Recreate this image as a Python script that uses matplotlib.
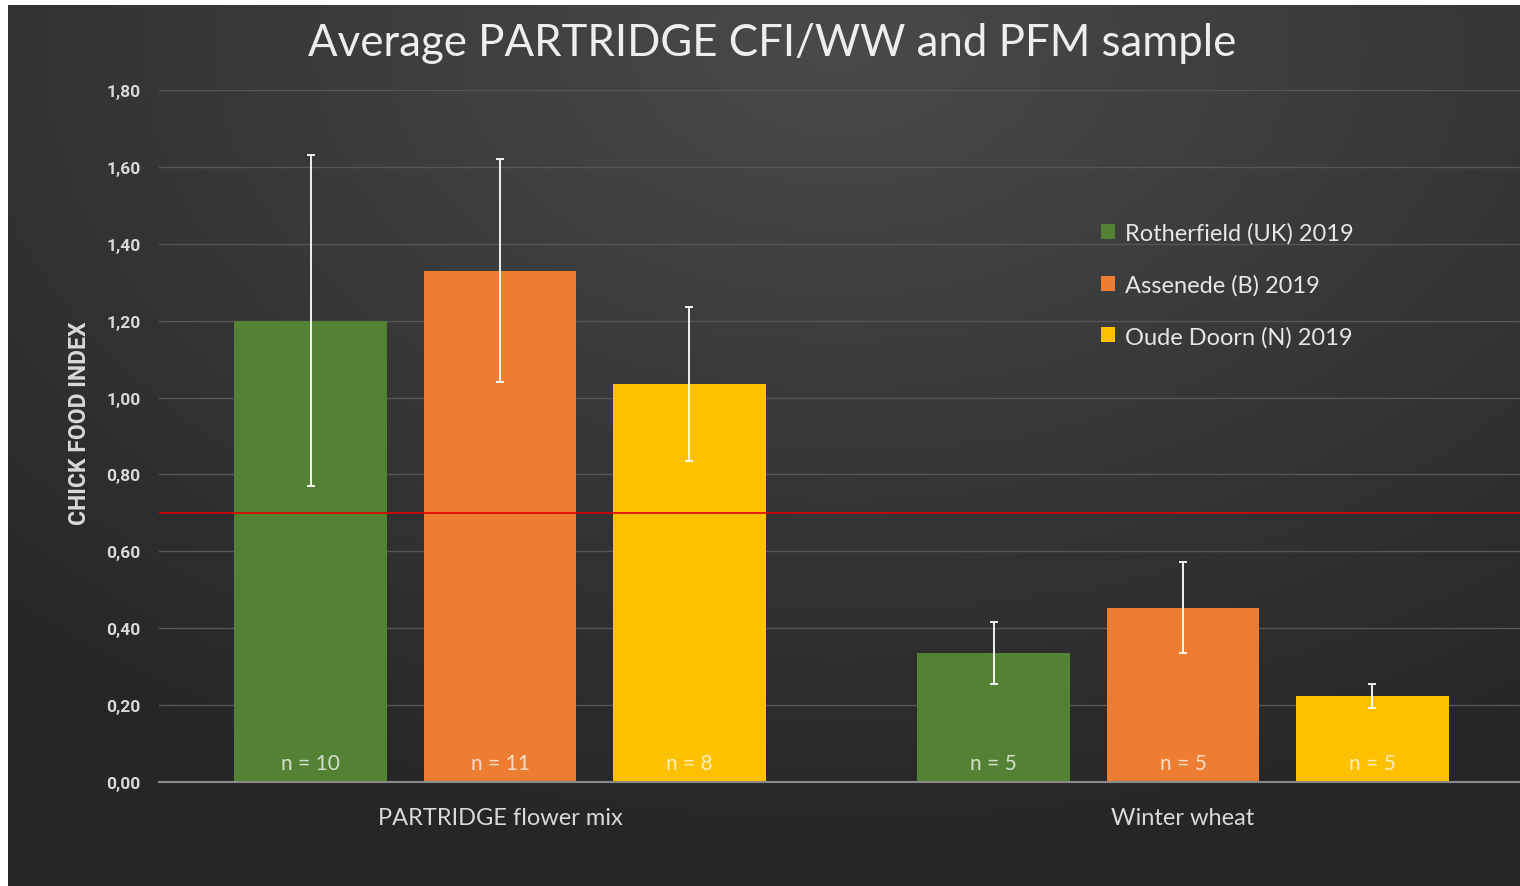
import numpy as np
import matplotlib.pyplot as plt

categories = ['PARTRIDGE flower mix', 'Winter wheat']
series = ['Rotherfield (UK) 2019', 'Assenede (B) 2019', 'Oude Doorn (N) 2019']
colors = ['#548235', '#ED7D31', '#FFC000']
values = [[1.20, 0.335], [1.33, 0.453], [1.035, 0.224]]
errors = [[0.43, 0.08], [0.29, 0.118], [0.20, 0.032]]
counts = [['n = 10', 'n = 5'], ['n = 11', 'n = 5'], ['n = 8', 'n = 5']]
threshold = 0.70
yticks = [0.0, 0.2, 0.4, 0.6, 0.8, 1.0, 1.2, 1.4, 1.6, 1.8]

plt.rcParams['font.family'] = ['Lato', 'DejaVu Sans']
bold_font = ['Roboto', 'DejaVu Sans']

W, H = 1520, 887
fig = plt.figure(figsize=(W / 100, H / 100), dpi=100, facecolor='white')

# dark radial background, lighter near the top centre
bg = fig.add_axes([8 / W, 0, 1 - 8 / W, 1 - 6 / H])
gx, gy = np.meshgrid(np.linspace(0, 1, 400), np.linspace(0, 1, 240))
d = np.sqrt(((gx - 0.55) * 1.0) ** 2 + ((gy - 0.05) * 0.9) ** 2)
shade = np.clip(0.29 - 0.17 * d, 0.15, 0.3)
bg.imshow(np.dstack([shade] * 3), aspect='auto', extent=[0, 1, 0, 1], origin='upper')
bg.axis('off')

ax = fig.add_axes([158.5 / W, (H - 783) / H, 1366 / W, 692 / H])
ax.set_facecolor('none')

x = np.arange(len(categories))
width = 0.224
step = 0.277
for i, name in enumerate(series):
    pos = x + (i - 1) * step
    ax.bar(pos, values[i], width, color=colors[i], label=name, zorder=2)
    ax.errorbar(pos, values[i], yerr=errors[i], fmt='none', ecolor='white',
                elinewidth=1.3, capsize=3, capthick=1.3, zorder=3)
    for p, t in zip(pos, counts[i]):
        ax.text(p, 0.05, t, ha='center', va='center', fontsize=15,
                color='white', alpha=0.75, zorder=4)

ax.axhline(threshold, color='#E00000', lw=1.2, zorder=4)

ax.set_xlim(-0.5, 1.5)
ax.set_ylim(0, 1.8)
ax.set_yticks(yticks)
ax.set_yticklabels([f'{v:.2f}'.replace('.', ',') for v in yticks])
ax.set_xticks(x)
ax.set_xticklabels(categories)
ax.tick_params(axis='y', length=0, pad=13, labelsize=12.5, labelcolor='#d9d9d9')
ax.tick_params(axis='x', length=0, pad=18, labelsize=17, labelcolor='#d9d9d9')
for lab in ax.get_yticklabels():
    lab.set_fontweight('bold')
    lab.set_family(bold_font)
ax.grid(axis='y', color='#565656', lw=1, zorder=0)
for s in ['top', 'right', 'left']:
    ax.spines[s].set_visible(False)
ax.spines['bottom'].set_color('#8a8a8a')
ax.spines['bottom'].set_linewidth(1.5)

fig.text(79 / W, 1 - 423 / H, 'CHICK FOOD INDEX', rotation=90, ha='center', va='center',
         fontsize=16.5, fontweight='bold', family=bold_font, color='#d9d9d9')
fig.text(772 / W, 1 - 44 / H, 'Average PARTRIDGE CFI/WW and PFM sample', ha='center',
         va='center', fontsize=31.5, color='#eeeeee')

fig.legend(loc='upper left', bbox_to_anchor=(1080 / W, 1 - 202 / H), frameon=False,
           fontsize=17, labelcolor='#e6e6e6', handlelength=0.6, handleheight=0.6,
           handletextpad=0.4, labelspacing=1.28)

fig.savefig('out.png', dpi=100, facecolor=fig.get_facecolor())
